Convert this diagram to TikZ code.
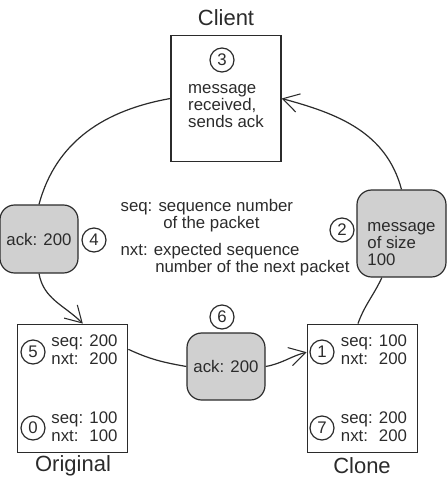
\documentclass[tikz,border=0pt]{standalone}
\usepackage{fontspec}
\setmainfont{Liberation Sans}
\usetikzlibrary{arrows.meta}
\definecolor{ink}{HTML}{2B2B2B}
\definecolor{boxgray}{HTML}{D0D0D0}

\begin{document}
\begin{tikzpicture}[x=0.75pt, y=-0.75pt, line width=0.9pt, color=ink,
    every node/.style={text=ink, font=\fontsize{12.6}{12.9}\selectfont},
    host/.style={draw=ink, minimum width=83pt, minimum height=96.5pt, inner sep=0pt},
    packet/.style={draw=ink, fill=boxgray, rounded corners=11pt, inner sep=0pt},
    stepnum/.style={draw=ink, circle, minimum size=18pt, inner sep=0pt},
    hostname/.style={font=\fontsize{16.5}{18}\selectfont},
    flow/.style={-{Straight Barb[length=12pt,width=14pt,line width=0.8pt]}}]
    \useasboundingbox (0,0) rectangle (447,479);

    % client
    \node[host, minimum width=82.5pt, minimum height=95pt] (client) at (226,98.5) {};
    \node[hostname] (clientname) at (226,18) {Client};
    \node[stepnum] (s3) at (222,60) {3};
    \node[align=left] (clienttext) at (226,106) {message\\received,\\sends ack};

    % original
    \node[host] (original) at (72.5,388.5) {};
    \node[hostname] (originalname) at (73,466) {Original};
    \node[stepnum] (s5) at (33,352) {5};
    \node[inner sep=0pt] (origtop) at (84.5,352) {\begin{tabular}{@{}l@{ }r@{}}seq: & 200\\ nxt: & 200\end{tabular}};
    \node[stepnum] (s0) at (33,428) {0};
    \node[inner sep=0pt] (origbot) at (84.5,429) {\begin{tabular}{@{}l@{ }r@{}}seq: & 100\\ nxt: & 100\end{tabular}};

    % clone
    \node[host] (clone) at (362.5,388.5) {};
    \node[hostname] (clonename) at (362,466) {Clone};
    \node[stepnum] (s1) at (322,352) {1};
    \node[inner sep=0pt] (clonetop) at (374,352) {\begin{tabular}{@{}l@{ }r@{}}seq: & 100\\ nxt: & 200\end{tabular}};
    \node[stepnum] (s7) at (322,428) {7};
    \node[inner sep=0pt] (clonebot) at (374,429) {\begin{tabular}{@{}l@{ }r@{}}seq: & 200\\ nxt: & 200\end{tabular}};

    % packets
    \node[packet, minimum width=58.5pt, minimum height=51pt] (ackleft) at (39,239) {ack: 200};
    \node[stepnum] (s4) at (94,240) {4};
    \node[packet, minimum width=66.75pt, minimum height=65.25pt] (message) at (401.5,233.5) {};
    \node[align=left] (messagetext) at (401.5,244) {message\\of size\\100};
    \node[stepnum] (s2) at (342,230) {2};
    \node[packet, minimum width=58.5pt, minimum height=50.25pt] (ackmid) at (226,366.5) {ack: 200};
    \node[stepnum] (s6) at (222,317) {6};

    % legend
    \node[align=left, anchor=west, inner sep=0pt] (seqnote) at (120,216) {seq: sequence number\\\hspace*{32pt}of the packet};
    \node[align=left, anchor=west, inner sep=0pt] (nxtnote) at (120,260) {nxt: expected sequence\\\hspace*{26pt}number of the next packet};

    % connectors
    \draw (clone.94) to[out=70, in=245] (message.246);
    \draw[flow] (message.north) to[out=105, in=-15] (client.east);
    \draw (client.west) to[out=190, in=75] (ackleft.north);
    \draw[flow] (ackleft.south) to[out=-80, in=135] (original.81);
    \draw (original.35) to[out=-25, in=170] (ackmid.west);
    \draw[flow] (ackmid.east) to[out=10, in=195] (clone.147);
\end{tikzpicture}
\end{document}
